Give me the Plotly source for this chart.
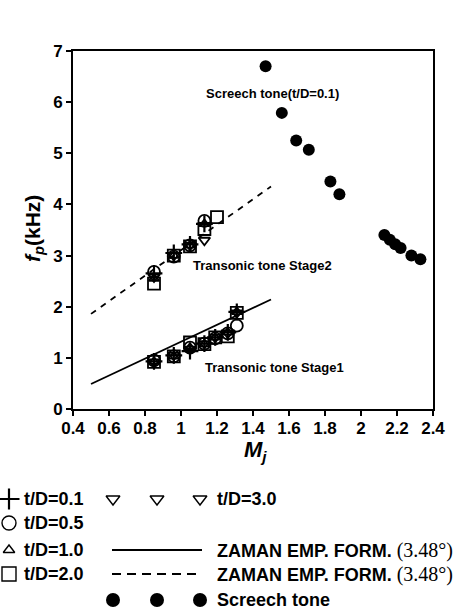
import plotly.graph_objects as go

# ---------------- data ----------------
mach_s1 = [0.85, 0.96, 1.05, 1.13, 1.19, 1.26, 1.31]
mach_s2 = [0.85, 0.96, 1.05, 1.13]
mach_s2_sq = [0.85, 0.96, 1.05, 1.13, 1.20]

td01_s1 = [0.93, 1.05, 1.13, 1.28, 1.40, 1.50, 1.90]
td01_s2 = [2.65, 3.05, 3.22, 3.62]
td05_s1 = [0.95, 1.03, 1.20, 1.28, 1.38, 1.48, 1.63]
td05_s2 = [2.68, 2.98, 3.20, 3.68]
td10_s1 = [0.93, 1.03, 1.20, 1.27, 1.40, 1.50, 1.90]
td10_s2 = [2.55, 3.00, 3.20, 3.62]
td20_s1 = [0.92, 1.03, 1.30, 1.27, 1.40, 1.42, 1.88]
td20_s2 = [2.45, 3.00, 3.18, 3.52, 3.75]
td30_s1 = [0.92, 1.05, 1.17, 1.28, 1.40, 1.48, 1.88]
td30_s2 = [2.58, 3.00, 3.20, 3.30]

screech_m = [1.47, 1.56, 1.64, 1.71, 1.83, 1.88, 2.13, 2.16, 2.19, 2.22, 2.28, 2.33]
screech_f = [6.70, 5.79, 5.25, 5.07, 4.45, 4.20, 3.40, 3.31, 3.22, 3.15, 3.00, 2.93]

zaman1_m = [0.5, 1.5]
zaman1_f = [0.49, 2.14]
zaman2_m = [0.5, 1.5]
zaman2_f = [1.86, 4.35]

x_ticks = [0.4, 0.6, 0.8, 1.0, 1.2, 1.4, 1.6, 1.8, 2.0, 2.2, 2.4]
x_tick_text = ["0.4", "0.6", "0.8", "1", "1.2", "1.4", "1.6", "1.8", "2", "2.2", "2.4"]
y_ticks = [0, 1, 2, 3, 4, 5, 6, 7]

# ---------------- figure ----------------
W, H = 456, 616
fig = go.Figure()
BLK = "black"

def fx(px):  # screen x -> paper fraction
    return px / W

def fy(py):  # screen y -> paper fraction
    return (H - py) / H

def mk(x, y, sym, size, lw=1.6, color=BLK, xa="x", ya="y"):
    fig.add_trace(go.Scatter(x=x, y=y, mode="markers", xaxis=xa, yaxis=ya,
                             marker=dict(symbol=sym, size=size, color=color,
                                         line=dict(color=color, width=lw)),
                             showlegend=False, hoverinfo="skip", cliponaxis=False))

# lines
fig.add_trace(go.Scatter(x=zaman1_m, y=zaman1_f, mode="lines",
                         line=dict(color=BLK, width=1.8), showlegend=False))
fig.add_trace(go.Scatter(x=zaman2_m, y=zaman2_f, mode="lines",
                         line=dict(color=BLK, width=1.8, dash="6px,6px"), showlegend=False))

# transonic markers
for xs, ys in [(mach_s1, td20_s1), (mach_s2_sq, td20_s2)]:
    mk(xs, ys, "square-open", 12, lw=1.8)
for xs, ys in [(mach_s1, td05_s1), (mach_s2, td05_s2)]:
    mk(xs, ys, "circle-open", 12, lw=1.8)
for xs, ys in [(mach_s1, td10_s1), (mach_s2, td10_s2)]:
    mk(xs, ys, "triangle-up-open", 9, lw=1.8)
for xs, ys in [(mach_s1, td30_s1), (mach_s2, td30_s2)]:
    mk(xs, ys, "triangle-down-open", 10, lw=1.8)
for xs, ys in [(mach_s1, td01_s1), (mach_s2, td01_s2)]:
    mk(xs, ys, "cross-thin-open", 12, lw=2.2)

# screech
mk(screech_m, screech_f, "circle", 12, lw=0)

# ---------------- legend (overlay axes in screen pixels) ----------------
rows = [499, 523, 550, 574, 600]
mk([9], [rows[0]], "cross-thin-open", 15, lw=2.2, xa="x2", ya="y2")
mk([9], [rows[1]], "circle-open", 14, lw=1.4, xa="x2", ya="y2")
mk([9], [rows[2]], "triangle-up-open", 10, lw=1.4, xa="x2", ya="y2")
mk([9], [rows[3]], "square-open", 14, lw=1.4, xa="x2", ya="y2")
mk([113, 157, 200], [rows[0]] * 3, "triangle-down-open", 12, lw=1.4, xa="x2", ya="y2")
mk([113, 157, 200], [rows[4]] * 3, "circle", 14, lw=0, xa="x2", ya="y2")
fig.add_trace(go.Scatter(x=[112, 202], y=[rows[2]] * 2, mode="lines", xaxis="x2", yaxis="y2",
                         line=dict(color=BLK, width=2), showlegend=False, cliponaxis=False))
fig.add_trace(go.Scatter(x=[112, 202], y=[rows[3]] * 2, mode="lines", xaxis="x2", yaxis="y2",
                         line=dict(color=BLK, width=2, dash="9px,6px"), showlegend=False,
                         cliponaxis=False))

LF = dict(family="Arial, Liberation Sans, sans-serif", size=18, color=BLK)
def legtext(x, y, t):
    fig.add_annotation(x=x, y=y, xref="x2", yref="y2", text=t, showarrow=False,
                       xanchor="left", yanchor="middle", font=LF)

legtext(22, rows[0], "<b>t/D=0.1</b>")
legtext(22, rows[1], "<b>t/D=0.5</b>")
legtext(22, rows[2], "<b>t/D=1.0</b>")
legtext(22, rows[3], "<b>t/D=2.0</b>")
legtext(215, rows[0], "<b>t/D=3.0</b>")
zam = ("<b>ZAMAN EMP. FORM.</b> <span style='font-family:Liberation Serif, Times New Roman, serif;"
       "font-size:20px'>(3.48°)</span>")
legtext(215, rows[2], zam)
legtext(215, rows[3], zam)
legtext(215, rows[4], "<b>Screech tone</b>")

# ---------------- in-plot labels ----------------
AF = dict(family="Arial, Liberation Sans, sans-serif", size=13, color=BLK)
fig.add_annotation(x=1.51, y=6.16, text="<b>Screech tone(t/D=0.1)</b>", showarrow=False, font=AF)
fig.add_annotation(x=1.453, y=2.80, text="<b>Transonic tone Stage2</b>", showarrow=False, font=AF)
fig.add_annotation(x=1.52, y=0.82, text="<b>Transonic tone Stage1</b>", showarrow=False, font=AF)

# axis titles
fig.add_annotation(x=34, y=229, xref="x2", yref="y2", textangle=-90, showarrow=False,
                   text="<b><i>f</i><sub><i>p</i></sub>(kHz)</b>",
                   font=dict(family="Arial, Liberation Sans, sans-serif", size=21, color=BLK))
fig.add_annotation(x=255, y=451, xref="x2", yref="y2", showarrow=False,
                   text="<b><i>M</i><sub><i>j</i></sub></b>",
                   font=dict(family="Arial, Liberation Sans, sans-serif", size=22, color=BLK))

TF = dict(family="Arial, Liberation Sans, sans-serif", size=17, color=BLK)
fig.update_layout(
    width=W, height=H,
    margin=dict(l=0, r=0, t=0, b=0, pad=0, autoexpand=False),
    paper_bgcolor="white", plot_bgcolor="rgba(0,0,0,0)",
    showlegend=False,
    xaxis=dict(domain=[fx(73), fx(433)], range=[0.4, 2.4], tickvals=x_ticks,
               ticktext=["<b>%s</b>" % t for t in x_tick_text], tickfont=TF,
               showgrid=False, zeroline=False, showline=True, linecolor=BLK, linewidth=2,
               mirror=True, ticks="outside", ticklen=5, tickwidth=2, tickcolor=BLK,
               automargin=False, ticklabelstandoff=-2),
    yaxis=dict(domain=[fy(409), fy(51)], range=[0, 7], tickvals=y_ticks,
               ticktext=["<b>%d</b>" % t for t in y_ticks], tickfont=TF,
               showgrid=False, zeroline=False, showline=True, linecolor=BLK, linewidth=2,
               mirror=True, ticks="outside", ticklen=5, tickwidth=2, tickcolor=BLK,
               automargin=False),
    xaxis2=dict(domain=[0, 1], range=[0, W], visible=False, anchor="y2", automargin=False),
    yaxis2=dict(domain=[0, 1], range=[H, 0], visible=False, anchor="x2", automargin=False),
)

fig.write_html("out.html")
